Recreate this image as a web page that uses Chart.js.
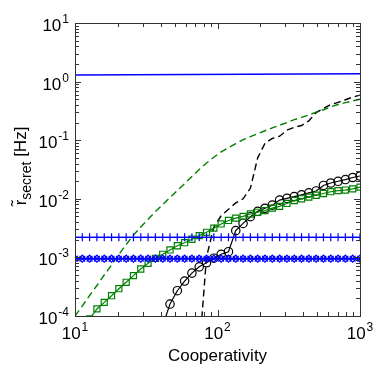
<!DOCTYPE html>
<html>
<head>
<meta charset="utf-8">
<script src="https://cdn.jsdelivr.net/npm/chart.js@4.4.1/dist/chart.umd.min.js"></script>
<style>
  html, body { margin: 0; padding: 0; background: #fff; }
  #wrap { width: 374px; height: 374px; }
</style>
</head>
<body>
<div id="wrap"><canvas id="chart" width="374" height="374"></canvas></div>
<script>
// x grid: 40 log-spaced cooperativity values
const cooperativity = [10, 11.25, 12.66, 14.25, 16.04, 18.05, 20.31, 22.86, 25.72, 28.94,
  32.57, 36.65, 41.25, 46.42, 52.24, 58.78, 66.15, 74.44, 83.77, 94.27,
  106.1, 119.4, 134.3, 151.2, 170.1, 191.4, 215.4, 242.4, 272.9, 307.1,
  345.6, 388.9, 437.6, 492.4, 554.1, 623.5, 701.7, 789.6, 888.6, 1000];

const blueSolidX = [10, 1000];
const blueSolidY = [1.30, 1.36];

const greenDashed = [1.00e-4, 1.48e-4, 2.24e-4, 3.31e-4, 5.01e-4, 7.41e-4, 1.12e-3, 1.66e-3, 2.40e-3, 3.31e-3,
  4.47e-3, 6.03e-3, 7.94e-3, 0.0105, 0.0138, 0.0182, 0.0240, 0.0316, 0.0407, 0.0513,
  0.0631, 0.0741, 0.0871, 0.102, 0.115, 0.129, 0.145, 0.162, 0.180, 0.200,
  0.224, 0.245, 0.269, 0.302, 0.331, 0.372, 0.407, 0.437, 0.468, 0.501];

const blackDashed = [null, null, null, null, null, null, null, null, null, null,
  null, null, null, null, null, null, null, 2.5e-5, 1.02e-3, 3.31e-3,
  5.13e-3, 6.61e-3, 8.51e-3, 0.0100, 0.0151, 0.0500, 0.0885, 0.107, 0.117, 0.148,
  0.166, 0.178, 0.214, 0.295, 0.347, 0.407, 0.442, 0.490, 0.543, 0.589];

const greenSquares = [null, null, 8.9e-5, 1.32e-4, 1.71e-4, 2.22e-4, 2.92e-4, 3.76e-4, 4.88e-4, 6.34e-4,
  7.93e-4, 9.66e-4, 1.13e-3, 1.34e-3, 1.58e-3, 1.78e-3, 2.04e-3, 2.35e-3, 2.68e-3, 3.16e-3,
  3.72e-3, 4.27e-3, 4.68e-3, 5.01e-3, 5.50e-3, 5.89e-3, 6.31e-3, 6.92e-3, 7.41e-3, 8.32e-3,
  9.33e-3, 0.0100, 0.0107, 0.0115, 0.0123, 0.0132, 0.0138, 0.0141, 0.0148, 0.0158];

const blackCircles = [null, null, null, null, null, null, null, null, null, null,
  null, null, 6.8e-5, 1.6e-4, 2.7e-4, 3.95e-4, 5.4e-4, 6.9e-4, 8.1e-4, 9.7e-4,
  1.13e-3, 1.25e-3, 2.86e-3, 3.8e-3, 4.95e-3, 6.1e-3, 6.9e-3, 7.8e-3, 9.5e-3, 0.0102,
  0.0109, 0.0117, 0.0126, 0.0136, 0.0169, 0.0186, 0.0199, 0.0213, 0.0231, 0.0245];

const bluePlus = [2.2e-3, 2.2e-3, 2.2e-3, 2.2e-3, 2.2e-3, 2.2e-3, 2.2e-3, 2.2e-3, 2.2e-3, 2.2e-3,
  2.2e-3, 2.2e-3, 2.2e-3, 2.2e-3, 2.2e-3, 2.2e-3, 2.2e-3, 2.2e-3, 2.2e-3, 2.2e-3,
  2.2e-3, 2.2e-3, 2.2e-3, 2.2e-3, 2.2e-3, 2.2e-3, 2.2e-3, 2.2e-3, 2.2e-3, 2.2e-3,
  2.2e-3, 2.2e-3, 2.2e-3, 2.2e-3, 2.2e-3, 2.2e-3, 2.2e-3, 2.2e-3, 2.2e-3, 2.2e-3];

const blueCross = [9.5e-4, 9.5e-4, 9.5e-4, 9.5e-4, 9.5e-4, 9.5e-4, 9.5e-4, 9.5e-4, 9.5e-4, 9.5e-4,
  9.5e-4, 9.5e-4, 9.5e-4, 9.5e-4, 9.5e-4, 9.5e-4, 9.5e-4, 9.5e-4, 9.5e-4, 9.5e-4,
  9.5e-4, 9.5e-4, 9.5e-4, 9.5e-4, 9.5e-4, 9.5e-4, 9.5e-4, 9.5e-4, 9.5e-4, 9.5e-4,
  9.5e-4, 9.5e-4, 9.5e-4, 9.5e-4, 9.5e-4, 9.5e-4, 9.5e-4, 9.5e-4, 9.5e-4, 9.5e-4];

const blueDiamond = [9.5e-4, 9.5e-4, 9.5e-4, 9.5e-4, 9.5e-4, 9.5e-4, 9.5e-4, 9.5e-4, 9.5e-4, 9.5e-4,
  9.5e-4, 9.5e-4, 9.5e-4, 9.5e-4, 9.5e-4, 9.5e-4, 9.5e-4, 9.5e-4, 9.5e-4, 9.5e-4,
  9.5e-4, 9.5e-4, 9.5e-4, 9.5e-4, 9.5e-4, 9.5e-4, 9.5e-4, 9.5e-4, 9.5e-4, 9.5e-4,
  9.5e-4, 9.5e-4, 9.5e-4, 9.5e-4, 9.5e-4, 9.5e-4, 9.5e-4, 9.5e-4, 9.5e-4, 9.5e-4];

const xTicks = [10, 100, 1000];
const xTickExp = ["1", "2", "3"];
const yTicks = [1e-4, 1e-3, 1e-2, 1e-1, 1, 10];
const yTickExp = ["-4", "-3", "-2", "-1", "0", "1"];
const xTitle = "Cooperativity";

const BLUE = "#0000ff";
const GREEN = "#008000";
const BLACK = "#000000";

function pts(ys) {
  return cooperativity.map((x, i) => ({ x: x, y: ys[i] }));
}

function drawPow(ctx, exp, x, y, align) {
  ctx.font = "17px 'Liberation Sans', Arial, sans-serif";
  const wb = ctx.measureText("10").width;
  ctx.font = "12px 'Liberation Sans', Arial, sans-serif";
  const we = ctx.measureText(exp).width;
  const total = wb + we + 1;
  let x0 = align === "center" ? x - total / 2 : x - total;
  ctx.textAlign = "left";
  ctx.textBaseline = "alphabetic";
  ctx.font = "17px 'Liberation Sans', Arial, sans-serif";
  ctx.fillText("10", x0, y);
  ctx.font = "12px 'Liberation Sans', Arial, sans-serif";
  ctx.fillText(exp, x0 + wb + 1, y - 8);
}

const axesPlugin = {
  id: "axesBox",
  afterDraw(chart) {
    const ctx = chart.ctx;
    const a = chart.chartArea;
    const xs = chart.scales.x;
    const ys = chart.scales.y;
    ctx.save();
    ctx.strokeStyle = "#333";
    ctx.lineWidth = 1;
    ctx.strokeRect(Math.round(a.left) + 0.5, Math.round(a.top) + 0.5,
      Math.round(a.right - a.left), Math.round(a.bottom - a.top));

    ctx.beginPath();
    // x ticks (major and minor), inward on bottom and top
    for (let d = 10; d <= 1000; d *= 10) {
      for (let m = 1; m <= 9; m++) {
        const v = d * m;
        if (v > 1000) break;
        const px = Math.round(xs.getPixelForValue(v)) + 0.5;
        const len = m === 1 ? 6 : 4;
        ctx.moveTo(px, a.bottom);
        ctx.lineTo(px, a.bottom - len);
        ctx.moveTo(px, a.top);
        ctx.lineTo(px, a.top + len);
      }
    }
    // y ticks
    for (let e = -4; e <= 1; e++) {
      for (let m = 1; m <= 9; m++) {
        const v = m * Math.pow(10, e);
        if (v > 10.0001) break;
        const py = Math.round(ys.getPixelForValue(v)) + 0.5;
        const len = m === 1 ? 6 : 4;
        ctx.moveTo(a.left, py);
        ctx.lineTo(a.left + len, py);
        ctx.moveTo(a.right, py);
        ctx.lineTo(a.right - len, py);
      }
    }
    ctx.stroke();

    ctx.fillStyle = "#000";
    xTicks.forEach((v, i) => {
      drawPow(ctx, xTickExp[i], xs.getPixelForValue(v), 339, "center");
    });
    yTicks.forEach((v, i) => {
      drawPow(ctx, yTickExp[i], 69, ys.getPixelForValue(v) + 8, "right");
    });

    // x title
    ctx.font = "17px 'Liberation Sans', Arial, sans-serif";
    ctx.textAlign = "center";
    ctx.fillText(xTitle, (a.left + a.right) / 2, 361);

    // y title: r~ secret [Hz], rotated
    const mainFont = "17px 'Liberation Sans', Arial, sans-serif";
    const subFont = "14px 'Liberation Sans', Arial, sans-serif";
    ctx.font = mainFont;
    const wr = ctx.measureText("r\u0303").width;
    const wHz = ctx.measureText(" [Hz]").width;
    ctx.font = subFont;
    const ws = ctx.measureText("secret").width;
    const total = wr + ws + wHz;
    ctx.translate(26, 166 + total / 2);
    ctx.rotate(-Math.PI / 2);
    ctx.textAlign = "left";
    ctx.font = mainFont;
    ctx.fillText("r\u0303", 0, 0);
    ctx.font = subFont;
    ctx.fillText("secret", wr, 5);
    ctx.font = mainFont;
    ctx.fillText(" [Hz]", wr + ws, 0);
    ctx.restore();
  }
};

new Chart(document.getElementById("chart").getContext("2d"), {
  type: "line",
  data: {
    datasets: [
      {
        data: blueSolidX.map((x, i) => ({ x: x, y: blueSolidY[i] })),
        borderColor: BLUE, borderWidth: 1.5, pointRadius: 0
      },
      {
        data: pts(bluePlus),
        borderColor: BLUE, borderWidth: 1.2,
        pointStyle: "cross", pointRadius: 4, pointBorderColor: BLUE, pointBorderWidth: 1.2
      },
      {
        data: pts(blueCross),
        borderColor: BLUE, borderWidth: 1.2,
        pointStyle: "crossRot", pointRadius: 4, pointBorderColor: BLUE, pointBorderWidth: 1.2
      },
      {
        data: pts(blueDiamond),
        borderColor: BLUE, borderWidth: 1.2,
        pointStyle: "rectRot", pointRadius: 3.5, pointBorderColor: BLUE,
        pointBackgroundColor: "rgba(0,0,0,0)", pointBorderWidth: 1.2
      },
      {
        data: pts(greenDashed),
        borderColor: GREEN, borderWidth: 1.4, borderDash: [7, 4], pointRadius: 0
      },
      {
        data: pts(greenSquares),
        borderColor: GREEN, borderWidth: 1.2,
        pointStyle: "rect", pointRadius: 4.3, pointBorderColor: GREEN,
        pointBackgroundColor: "rgba(0,0,0,0)", pointBorderWidth: 1.2
      },
      {
        data: pts(blackDashed),
        borderColor: BLACK, borderWidth: 1.4, borderDash: [7, 4], pointRadius: 0
      },
      {
        data: pts(blackCircles),
        borderColor: BLACK, borderWidth: 1.2,
        pointStyle: "circle", pointRadius: 4.2, pointBorderColor: BLACK,
        pointBackgroundColor: "rgba(0,0,0,0)", pointBorderWidth: 1.2
      }
    ]
  },
  options: {
    responsive: false,
    animation: false,
    spanGaps: false,
    layout: { padding: { left: 75, right: 14, top: 23, bottom: 58 } },
    plugins: { legend: { display: false }, tooltip: { enabled: false } },
    elements: { line: { tension: 0 } },
    scales: {
      x: { type: "logarithmic", min: 10, max: 1000, display: false },
      y: { type: "logarithmic", min: 1e-4, max: 10, display: false }
    }
  },
  plugins: [axesPlugin]
});
</script>
</body>
</html>
